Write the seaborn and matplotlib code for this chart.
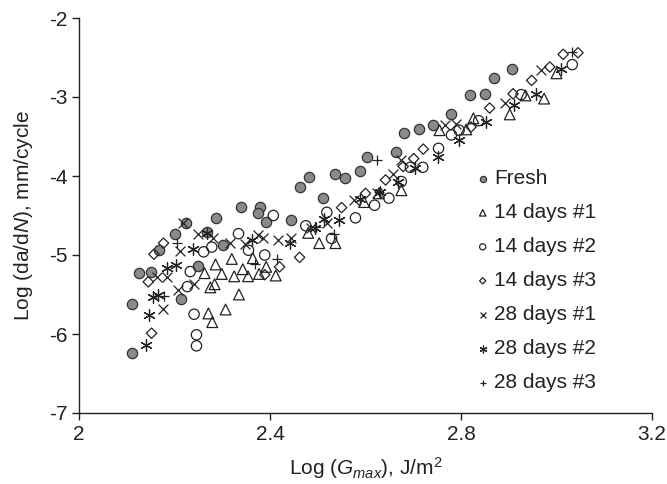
import numpy as np
import pandas as pd
import matplotlib
matplotlib.use("Agg")
import matplotlib.pyplot as plt
import seaborn as sns

# ---- data ----
fresh_x = [2.11, 2.11, 2.125, 2.151, 2.167, 2.201, 2.224, 2.213, 2.249, 2.268, 2.286, 2.302,
           2.340, 2.379, 2.375, 2.391, 2.444, 2.463, 2.481, 2.512, 2.536, 2.558, 2.588, 2.603,
           2.663, 2.681, 2.713, 2.741, 2.779, 2.818, 2.851, 2.869, 2.906]
fresh_y = [-6.24, -5.62, -5.23, -5.21, -4.94, -4.73, -4.59, -5.56, -5.14, -4.71, -4.53, -4.87,
           -4.39, -4.39, -4.47, -4.58, -4.56, -4.14, -4.01, -4.28, -3.97, -4.03, -3.94, -3.76,
           -3.70, -3.45, -3.41, -3.35, -3.21, -2.98, -2.96, -2.76, -2.65]

d14_1_x = [2.263, 2.275, 2.284, 2.286, 2.299, 2.320, 2.325, 2.343, 2.354, 2.364, 2.377, 2.392,
           2.412, 2.335, 2.271, 2.279, 2.307, 2.480, 2.503, 2.537, 2.597, 2.628, 2.675, 2.755,
           2.811, 2.826, 2.902, 2.935, 2.974, 3.000]
d14_1_y = [-5.23, -5.41, -5.37, -5.12, -5.24, -5.05, -5.27, -5.18, -5.27, -5.04, -5.24, -5.15,
           -5.26, -5.50, -5.74, -5.85, -5.69, -4.72, -4.85, -4.85, -4.33, -4.22, -4.18, -3.42,
           -3.41, -3.27, -3.22, -2.98, -3.02, -2.70]

d14_2_x = [2.227, 2.233, 2.241, 2.246, 2.246, 2.261, 2.278, 2.334, 2.355, 2.389, 2.407, 2.475,
           2.519, 2.529, 2.579, 2.619, 2.649, 2.675, 2.694, 2.720, 2.753, 2.780, 2.796, 2.837,
           2.926, 3.033]
d14_2_y = [-5.40, -5.21, -5.75, -6.01, -6.15, -4.96, -4.90, -4.73, -4.94, -5.00, -4.50, -4.63,
           -4.46, -4.79, -4.53, -4.37, -4.28, -4.07, -3.89, -3.89, -3.65, -3.48, -3.42, -3.30,
           -2.97, -2.59]

d14_3_x = [2.145, 2.152, 2.157, 2.177, 2.389, 2.420, 2.462, 2.550, 2.600, 2.642, 2.679, 2.701,
           2.721, 2.821, 2.860, 2.909, 2.948, 2.986, 3.014, 3.045]
d14_3_y = [-5.34, -5.99, -4.99, -4.85, -5.25, -5.15, -5.03, -4.40, -4.22, -4.05, -3.88, -3.78,
           -3.66, -3.38, -3.14, -2.96, -2.79, -2.62, -2.46, -2.44]

d28_1_x = [2.164, 2.176, 2.185, 2.207, 2.212, 2.217, 2.241, 2.250, 2.281, 2.316, 2.347, 2.375,
           2.385, 2.416, 2.444, 2.486, 2.520, 2.576, 2.624, 2.657, 2.675, 2.767, 2.789, 2.893,
           2.968]
d28_1_y = [-5.28, -5.68, -5.28, -5.44, -4.95, -4.59, -5.37, -4.73, -4.79, -4.85, -4.86, -4.75,
           -4.79, -4.81, -4.79, -4.66, -4.60, -4.30, -4.22, -3.97, -3.80, -3.35, -3.34, -3.08,
           -2.66]

d28_2_x = [2.140, 2.146, 2.156, 2.165, 2.184, 2.204, 2.238, 2.269, 2.362, 2.441, 2.494, 2.514,
           2.545, 2.588, 2.631, 2.668, 2.704, 2.751, 2.796, 2.853, 2.910, 2.957, 3.010]
d28_2_y = [-6.14, -5.76, -5.53, -5.51, -5.17, -5.13, -4.92, -4.72, -4.81, -4.85, -4.66, -4.54,
           -4.56, -4.29, -4.20, -4.07, -3.90, -3.76, -3.54, -3.32, -3.10, -2.96, -2.64]

d28_3_x = [2.179, 2.205, 2.368, 2.414, 2.497, 2.534, 2.624, 2.628, 3.033]
d28_3_y = [-5.52, -4.85, -5.11, -5.05, -4.64, -4.73, -3.80, -4.20, -2.43]

series_names = ["Fresh", "14 days #1", "14 days #2", "14 days #3",
                "28 days #1", "28 days #2", "28 days #3"]
x_ticks = [2, 2.4, 2.8, 3.2]
x_tick_labels = ["2", "2.4", "2.8", "3.2"]
y_ticks = [-7, -6, -5, -4, -3, -2]
y_tick_labels = ["-7", "-6", "-5", "-4", "-3", "-2"]

# ---- style ----
sns.set_style("ticks")
plt.rcParams["font.family"] = ["Liberation Sans", "DejaVu Sans"]
plt.rcParams["mathtext.fontset"] = "custom"
plt.rcParams["mathtext.rm"] = "Liberation Sans"
plt.rcParams["mathtext.it"] = "Liberation Sans:italic"
plt.rcParams["axes.unicode_minus"] = False

FS = 15
INK = "#222222"

fig = plt.figure(figsize=(6.67, 4.84), dpi=100)
ax = fig.add_axes([79 / 667, 1 - 413 / 484, (652 - 79) / 667, (413 - 18) / 484])

data = [
    (fresh_x, fresh_y),
    (d14_1_x, d14_1_y),
    (d14_2_x, d14_2_y),
    (d14_3_x, d14_3_y),
    (d28_1_x, d28_1_y),
    (d28_2_x, d28_2_y),
    (d28_3_x, d28_3_y),
]
styles = [
    dict(marker="o", s=55, facecolor="#8a8a8a", edgecolor="#333333", linewidth=0.9),
    dict(marker="^", s=60, facecolor="none", edgecolor=INK, linewidth=0.9),
    dict(marker="o", s=55, facecolor="none", edgecolor=INK, linewidth=0.9),
    dict(marker="D", s=28, facecolor="none", edgecolor=INK, linewidth=0.9),
    dict(marker="x", s=50, color=INK, linewidth=0.9),
    dict(marker=(6, 2, 0), s=70, color=INK, linewidth=0.9),
    dict(marker="+", s=60, color=INK, linewidth=0.9),
]

for name, (xs, ys), st in zip(series_names, data, styles):
    df = pd.DataFrame({"x": xs, "y": ys})
    sns.scatterplot(data=df, x="x", y="y", ax=ax, label=name, **st)

ax.set_xlim(2, 3.2)
ax.set_ylim(-7, -2)
ax.set_xticks(x_ticks)
ax.set_xticklabels(x_tick_labels)
ax.set_yticks(y_ticks)
ax.set_yticklabels(y_tick_labels)
ax.tick_params(axis="both", labelsize=FS, colors=INK, length=5, width=1, direction="out")
for side in ["top", "right"]:
    ax.spines[side].set_visible(False)
for side in ["left", "bottom"]:
    ax.spines[side].set_color(INK)
    ax.spines[side].set_linewidth(1)

ax.set_xlabel(r"Log ($G_{max}$), J/m$^2$", fontsize=FS, color=INK, labelpad=8)
ax.set_ylabel(r"Log (da/d$\it{N}$), mm/cycle", fontsize=FS, color=INK, labelpad=10)

leg = ax.legend(loc="upper left", bbox_to_anchor=(0.69, 0.617), frameon=False,
                fontsize=FS, markerscale=0.6, handlelength=0.8, handletextpad=0.15,
                labelspacing=0.72, borderpad=0, borderaxespad=0)
for t in leg.get_texts():
    t.set_color(INK)

fig.savefig("out.png", dpi=100)
